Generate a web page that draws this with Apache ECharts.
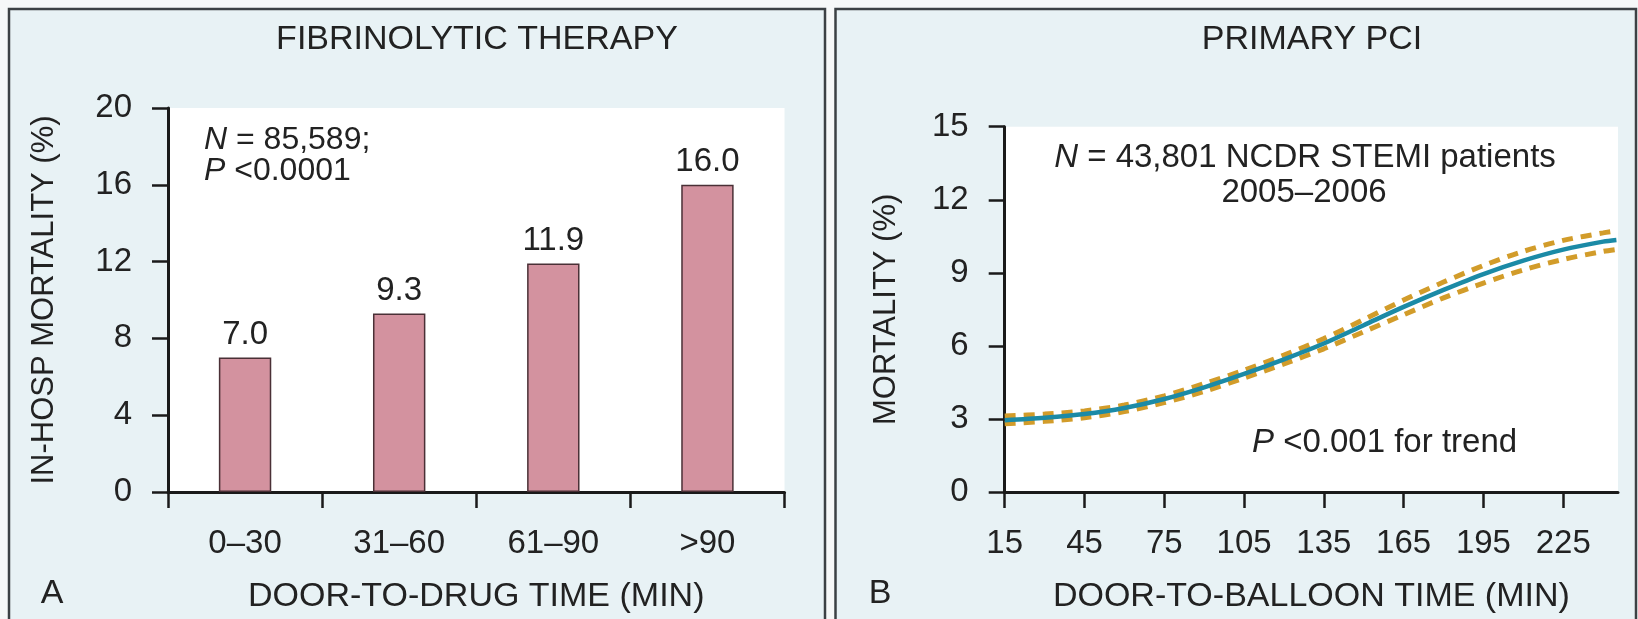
<!DOCTYPE html>
<html><head><meta charset="utf-8">
<script src="https://cdn.jsdelivr.net/npm/echarts@6/dist/echarts.min.js"></script>
<style>html,body{margin:0;padding:0;background:#f6f8f8;} #c{width:1638px;height:619px;}</style>
</head><body><div id="c"></div>
<script>
// ---- Panel A: fibrinolytic therapy ----
const barCategories = ['0–30', '31–60', '61–90', '>90'];
const barValues = [7.0, 9.3, 11.9, 16.0];

// ---- Panel B: primary PCI ----
const pciTimes     = [15, 30, 45, 60, 75, 90, 105, 120, 135, 150, 165, 180, 195, 210, 225, 240, 245];
const pciMortality = [2.95, 3.05, 3.2, 3.45, 3.82, 4.3, 4.85, 5.45, 6.1, 6.85, 7.6, 8.3, 8.95, 9.5, 9.95, 10.28, 10.35];
const pciUpper     = [3.12, 3.2, 3.33, 3.57, 3.95, 4.45, 5.0, 5.62, 6.3, 7.08, 7.88, 8.62, 9.3, 9.88, 10.33, 10.64, 10.72];
const pciLower     = [2.8, 2.9, 3.05, 3.3, 3.67, 4.13, 4.68, 5.26, 5.88, 6.58, 7.28, 7.97, 8.58, 9.12, 9.55, 9.88, 9.96];
const pciTickLabels = [15, 45, 75, 105, 135, 165, 195, 225];

const FONT = "'Liberation Sans', Arial, Helvetica, sans-serif";
const TXT = '#222222';
const AX = '#1a1a1a';

const chart = echarts.init(document.getElementById('c'), null, {renderer: 'canvas'});

function txt(x, y, text, size, align) {
  return {
    type: 'text', z: 100,
    style: {
      x: x, y: y, text: text, fill: TXT,
      fontSize: size, fontFamily: FONT,
      textAlign: align || 'center', textVerticalAlign: 'middle',
      rich: { i: { fontStyle: 'italic', fontSize: size, fontFamily: FONT, fill: TXT } }
    }
  };
}

const option = {
  animation: false,
  backgroundColor: '#f6f8f8',
  textStyle: { fontFamily: FONT },
  grid: [
    { left: 168, top: 108, width: 616.5, height: 385.3, show: true, backgroundColor: '#ffffff', borderWidth: 0 },
    { left: 1004.7, top: 126.7, width: 613.3, height: 366.6, show: true, backgroundColor: '#ffffff', borderWidth: 0 }
  ],
  xAxis: [
    {
      type: 'category', gridIndex: 0, data: barCategories,
      axisLine: { lineStyle: { color: AX, width: 3 } },
      axisTick: { show: true, length: 16, lineStyle: { color: AX, width: 2.5 } },
      axisLabel: { color: TXT, fontSize: 33, fontFamily: FONT, margin: 35 },
      name: 'DOOR-TO-DRUG TIME (MIN)', nameLocation: 'middle', nameGap: 88,
      nameTextStyle: { color: TXT, fontSize: 34, fontFamily: FONT }
    },
    {
      type: 'value', gridIndex: 1, min: 15, max: 245.6,
      axisLine: { show: true, onZero: false, lineStyle: { color: AX, width: 3 } },
      axisTick: { show: true, length: 16, lineStyle: { color: AX, width: 2.5 }, customValues: pciTickLabels },
      axisLabel: { color: TXT, fontSize: 33, fontFamily: FONT, margin: 35, customValues: pciTickLabels },
      splitLine: { show: false },
      name: 'DOOR-TO-BALLOON TIME (MIN)', nameLocation: 'middle', nameGap: 88,
      nameTextStyle: { color: TXT, fontSize: 34, fontFamily: FONT }
    }
  ],
  yAxis: [
    {
      type: 'value', gridIndex: 0, min: 0, max: 20, interval: 4,
      axisLine: { show: true, lineStyle: { color: AX, width: 3 } },
      axisTick: { show: true, length: 16, lineStyle: { color: AX, width: 2.5 } },
      axisLabel: { color: TXT, fontSize: 33, fontFamily: FONT, margin: 36 },
      splitLine: { show: false },
      name: 'IN-HOSP MORTALITY (%)', nameLocation: 'middle', nameGap: 108, nameRotate: 90,
      nameTextStyle: { color: TXT, fontSize: 31, fontFamily: FONT }
    },
    {
      type: 'value', gridIndex: 1, min: 0, max: 15, interval: 3,
      axisLine: { show: true, lineStyle: { color: AX, width: 3 } },
      axisTick: { show: true, length: 16, lineStyle: { color: AX, width: 2.5 } },
      axisLabel: { color: TXT, fontSize: 33, fontFamily: FONT, margin: 36 },
      splitLine: { show: false },
      name: 'MORTALITY (%)', nameLocation: 'middle', nameGap: 103, nameRotate: 90,
      nameTextStyle: { color: TXT, fontSize: 31, fontFamily: FONT }
    }
  ],
  series: [
    {
      type: 'bar', xAxisIndex: 0, yAxisIndex: 0, data: barValues, barWidth: '34%',
      itemStyle: { color: '#d3929f', borderColor: '#4a3036', borderWidth: 1.5 },
      label: { show: true, position: 'top', distance: 6, color: TXT, fontSize: 33, fontFamily: FONT,
               formatter: p => p.value.toFixed(1) }
    },
    {
      type: 'line', xAxisIndex: 1, yAxisIndex: 1, smooth: 0.3, showSymbol: false,
      data: pciTimes.map((t, i) => [t, pciUpper[i]]),
      lineStyle: { color: '#d29c2a', width: 5, type: [11, 8] }, z: 2
    },
    {
      type: 'line', xAxisIndex: 1, yAxisIndex: 1, smooth: 0.3, showSymbol: false,
      data: pciTimes.map((t, i) => [t, pciLower[i]]),
      lineStyle: { color: '#d29c2a', width: 5, type: [11, 8] }, z: 2
    },
    {
      type: 'line', xAxisIndex: 1, yAxisIndex: 1, smooth: 0.3, showSymbol: false,
      data: pciTimes.map((t, i) => [t, pciMortality[i]]),
      lineStyle: { color: '#1b8aa6', width: 4.5 }, z: 3
    }
  ],
  graphic: [
    { type: 'rect', z: -10, shape: { x: 9, y: 9, width: 816, height: 640 },
      style: { fill: '#e8f2f5', stroke: '#3c4144', lineWidth: 2.5 } },
    { type: 'rect', z: -10, shape: { x: 835.5, y: 9, width: 800.5, height: 640 },
      style: { fill: '#e8f2f5', stroke: '#3c4144', lineWidth: 2.5 } },
    txt(477, 39.5, 'FIBRINOLYTIC THERAPY', 34),
    txt(1312, 39.5, 'PRIMARY PCI', 34),
    txt(52, 594, 'A', 34),
    txt(880, 594, 'B', 34),
    txt(204, 140, '{i|N} = 85,589;', 32, 'left'),
    txt(204, 171, '{i|P} <0.0001', 32, 'left'),
    txt(1305, 158, '{i|N} = 43,801 NCDR STEMI patients', 33),
    txt(1304, 193, '2005–2006', 33),
    txt(1252, 443, '{i|P} <0.001 for trend', 33, 'left')
  ]
};
chart.setOption(option);
</script>
</body></html>
